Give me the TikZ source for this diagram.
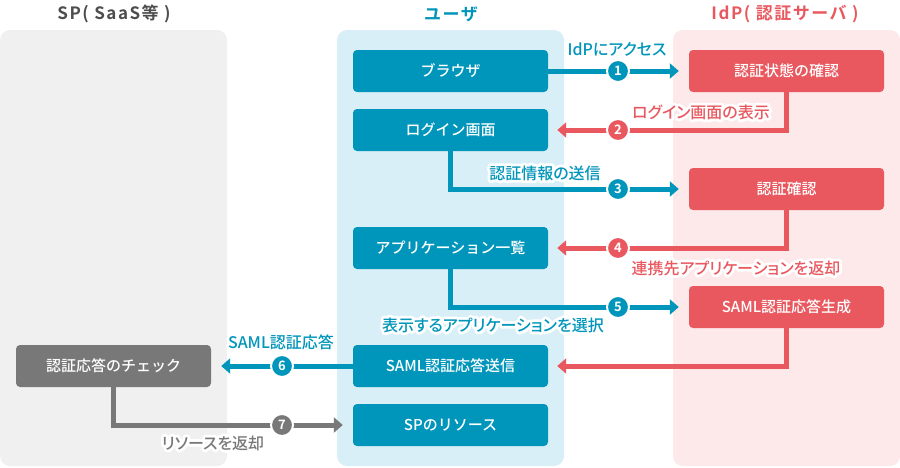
\documentclass[tikz,border=0pt]{standalone}
\usepackage{fontspec}
\setmainfont{Noto Sans CJK JP}[BoldFont={Noto Sans CJK JP Bold}]
\newfontfamily\medfont{Noto Sans CJK JP Medium}
\newfontfamily\lblfont{Noto Sans CJK JP Medium}[RawFeature=+palt]
\newfontfamily\halofont{Noto Sans CJK JP Medium}[RawFeature=+palt,FakeBold=35]
\newfontfamily\ttlfont{Noto Sans CJK JP Bold}[LetterSpace=9]
\usetikzlibrary{arrows.meta,calc}
\definecolor{cblue}{HTML}{0095BA}
\definecolor{cbluepanel}{HTML}{D9EFF7}
\definecolor{cred}{HTML}{E9585F}
\definecolor{credpanel}{HTML}{FDE8EA}
\definecolor{cgray}{HTML}{787878}
\definecolor{cgraypanel}{HTML}{F0F0F0}
\definecolor{ctitlegray}{HTML}{4D4D4D}
\tikzset{
  panel/.style={rounded corners=10pt, draw=none},
  box/.style={rounded corners=4pt, minimum width=195pt, minimum height=42pt, text=white,
    font=\medfont\fontsize{15}{15}\selectfont, inner sep=0pt},
  num/.style={circle, minimum size=22pt, inner sep=0pt, draw=white, line width=2pt, text=white,
    font=\bfseries\fontsize{13}{13}\selectfont},
  conn/.style={line width=5pt},
  tipped/.style={-{Triangle[length=9pt,width=15pt]}},
  lbl/.style={font=\lblfont\fontsize{16}{16}\selectfont, inner sep=0pt},
  halo/.style={font=\halofont\fontsize{16}{16}\selectfont, inner sep=0pt, text=white,
    line join=round, miter limit=1},
  ttl/.style={font=\ttlfont\fontsize{17}{17}\selectfont, inner sep=0pt},
}
\newcommand\halonode[4]{%
  \begin{scope}[line join=round, miter limit=1]
  \node[halo] at (#2) {#4};
  \end{scope}
  \node[lbl,text=#3] (#1) at (#2) {#4};
}
\begin{document}
\begin{tikzpicture}[x=1pt,y=-1pt]
\useasboundingbox (0,0) rectangle (900,467);
% panels
\fill[panel, cgraypanel] (0,30) rectangle (227,466);
\fill[panel, cbluepanel] (337,30) rectangle (564,466);
\fill[panel, credpanel] (673,30) rectangle (900,466);
% titles
\node[ttl, text=ctitlegray] (tsp) at (114,14) {SP( SaaS等 )};
\node[ttl, text=cblue] (tuser) at (451,14) {ユーザ};
\node[ttl, text=cred] (tidp) at (785,14) {IdP( 認証サーバ )};
% boxes
\node[box, fill=cblue] (browser) at (450.5,71) {ブラウザ};
\node[box, fill=cblue] (login) at (450.5,130) {ログイン画面};
\node[box, fill=cblue] (applist) at (450.5,248) {アプリケーション一覧};
\node[box, fill=cblue] (samlsend) at (450.5,366) {SAML認証応答送信};
\node[box, fill=cblue] (spres) at (450.5,425) {SPのリソース};
\node[box, fill=cred] (authstate) at (786.5,71) {認証状態の確認};
\node[box, fill=cred] (authcheck) at (786.5,189) {認証確認};
\node[box, fill=cred] (samlgen) at (786.5,307) {SAML認証応答生成};
\node[box, fill=cgray] (check) at (113.5,366) {認証応答のチェック};
% connectors
\draw[conn, cblue, tipped, shorten >=10pt] (browser.east) -- (authstate.west);
\draw[conn, cred, tipped, shorten >=9pt] (authstate.south) |- (login.east);
\draw[conn, cblue, tipped, shorten >=10pt] (login.south) |- (authcheck.west);
\draw[conn, cred, tipped, shorten >=9pt] (authcheck.south) |- (applist.east);
\draw[conn, cblue, tipped, shorten >=10pt] (applist.south) |- (samlgen.west);
\draw[conn, cred, tipped, shorten >=9pt] (samlgen.south) |- (samlsend.east);
\draw[conn, cblue, tipped, shorten >=10pt] (samlsend.west) -- (check.east);
\draw[conn, cgray, tipped, shorten >=10pt] (check.south) |- (spres.west);
% numbered circles
\node[num, fill=cblue] (n1) at (618,71) {1};
\node[num, fill=cred] (n2) at (618,130) {2};
\node[num, fill=cblue] (n3) at (618,189) {3};
\node[num, fill=cred] (n4) at (618,248) {4};
\node[num, fill=cblue] (n5) at (618,307) {5};
\node[num, fill=cblue] (n6) at (282,366) {6};
\node[num, fill=cgray] (n7) at (282,425) {7};
% labels
\halonode{l1}{617,49}{cblue}{IdPにアクセス}
\halonode{l2}{701,112}{cred}{ログイン画面の表示}
\halonode{l3}{545,173}{cblue}{認証情報の送信}
\halonode{l4}{736,268}{cred}{連携先アプリケーションを返却}
\halonode{l5}{493,325}{cblue}{表示するアプリケーションを選択}
\halonode{l6}{281,342}{cblue}{SAML認証応答}
\halonode{l7}{213,443}{cgray}{リソースを返却}
\end{tikzpicture}
\end{document}
